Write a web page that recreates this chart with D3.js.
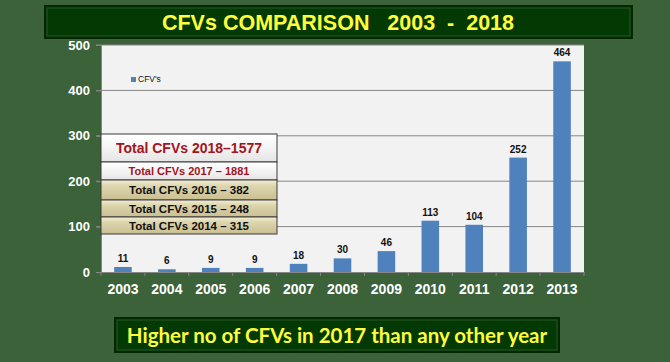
<!DOCTYPE html>
<html><head><meta charset="utf-8">
<script src="https://cdn.jsdelivr.net/npm/d3@7"></script>
<style>body{margin:0;background:#3b6239;}svg{display:block}</style>
</head><body>
<script>
const years = ["2003","2004","2005","2006","2007","2008","2009","2010","2011","2012","2013"];
const values = [11,6,9,9,18,30,46,113,104,252,464];
const yTicks = [0,100,200,300,400,500];
const seriesName = "CFV's";
const totals = ["Total CFVs 2018–1577","Total CFVs 2017 – 1881","Total CFVs 2016 – 382","Total CFVs 2015 – 248","Total CFVs 2014 – 315"];
const titleText = "CFVs COMPARISON   2003  -  2018";
const footText = "Higher no of CFVs in 2017 than any other year";

const W=670,H=362;
const svg=d3.select("body").append("svg").attr("width",W).attr("height",H);
const defs=svg.append("defs");
svg.append("rect").attr("width",W).attr("height",H).attr("fill","#3b6239");

const m={l:101,r:584,t:45,b:272};
const x=d3.scaleBand().domain(years).range([m.l,m.r]).paddingInner(0.6).paddingOuter(0.3);
const y=d3.scaleLinear().domain([0,500]).range([m.b,m.t]);

function darkBox(x0,y0,w,h){
  svg.append("rect").attr("x",x0).attr("y",y0).attr("width",w).attr("height",h).attr("fill","#012801");
  svg.append("rect").attr("x",x0+3).attr("y",y0+3).attr("width",w-6).attr("height",h-6).attr("fill","#033a03").attr("stroke","#1c4e1c").attr("stroke-width",1.5);
}
darkBox(44,5,589,34);
svg.append("text").attr("x",338).attr("y",30).attr("text-anchor","middle")
  .attr("font-family","Liberation Sans, Arial").attr("font-weight","bold").attr("font-size",21.5)
  .attr("fill","#ffff3c").style("white-space","pre").text(titleText);

svg.append("rect").attr("x",m.l).attr("y",m.t).attr("width",m.r-m.l).attr("height",m.b-m.t).attr("fill","#f2f2f2");
svg.append("g").selectAll("line").data(yTicks.filter(d=>d>0)).join("line")
  .attr("x1",m.l-5).attr("x2",m.r).attr("y1",d=>y(d)).attr("y2",d=>y(d)).attr("stroke","#868686").attr("stroke-width",1);
const ya=svg.append("g").attr("transform",`translate(${m.l},0)`).call(d3.axisLeft(y).tickValues(yTicks).tickSize(5).tickPadding(6));
ya.select(".domain").attr("stroke","#868686");
ya.selectAll(".tick line").attr("stroke","#868686");
ya.selectAll("text").attr("fill","#fff").attr("font-family","Liberation Sans, Arial").attr("font-weight","bold").attr("font-size",13);

svg.append("g").selectAll("rect").data(values).join("rect")
  .attr("x",(d,i)=>x(years[i])).attr("width",x.bandwidth())
  .attr("y",d=>y(d)).attr("height",d=>y(0)-y(d)).attr("fill","#4f81bd");
svg.append("g").selectAll("text").data(values).join("text")
  .attr("x",(d,i)=>x(years[i])+x.bandwidth()/2).attr("y",d=>y(d)-5)
  .attr("text-anchor","middle").attr("font-family","Liberation Sans, Arial").attr("font-weight","bold").attr("font-size",10).attr("fill","#111")
  .text(d=>d);

const xa=svg.append("g").attr("transform",`translate(0,${m.b})`).call(d3.axisBottom(x).tickSize(0).tickPadding(12));
xa.select(".domain").attr("stroke","#868686");
xa.selectAll("text").attr("fill","#fff").attr("font-family","Liberation Sans, Arial").attr("font-weight","bold").attr("font-size",14);
const step=x.step();
svg.append("g").selectAll("line").data(d3.range(years.length+1)).join("line")
  .attr("x1",i=>m.l+i*step).attr("x2",i=>m.l+i*step).attr("y1",m.b).attr("y2",m.b+4).attr("stroke","#868686");

svg.append("rect").attr("x",131).attr("y",77).attr("width",5).attr("height",5).attr("fill","#4f81bd");
svg.append("text").attr("x",138).attr("y",82).attr("font-family","Liberation Sans, Arial").attr("font-size",8.5).attr("fill","#111").text(seriesName);

const gW=defs.append("linearGradient").attr("id","gw").attr("x1",0).attr("y1",0).attr("x2",0).attr("y2",1);
gW.append("stop").attr("offset","0").attr("stop-color","#ffffff");
gW.append("stop").attr("offset","0.5").attr("stop-color","#f4f4f4");
gW.append("stop").attr("offset","1").attr("stop-color","#e4e4e4");
const gT=defs.append("linearGradient").attr("id","gt").attr("x1",0).attr("y1",0).attr("x2",0).attr("y2",1);
gT.append("stop").attr("offset","0").attr("stop-color","#f4efd6");
gT.append("stop").attr("offset","0.3").attr("stop-color","#ddd5ad");
gT.append("stop").attr("offset","1").attr("stop-color","#c9bf92");
const rows=[
  {y:134,h:28,fill:"url(#gw)",color:"#a3141c",size:14,weight:"bold"},
  {y:162,h:18,fill:"url(#gw)",color:"#a3141c",size:11,weight:"bold"},
  {y:180,h:20,fill:"url(#gt)",color:"#111",size:11.5,weight:"bold"},
  {y:200,h:17,fill:"url(#gt)",color:"#111",size:11.5,weight:"bold"},
  {y:217,h:17,fill:"url(#gt)",color:"#111",size:11.5,weight:"bold"}
];
const bx=101,bw=176;
rows.forEach((r,i)=>{
  svg.append("rect").attr("x",bx).attr("y",r.y).attr("width",bw).attr("height",r.h).attr("fill",r.fill).attr("stroke","#3a3a3a").attr("stroke-width",1);
  svg.append("text").attr("x",bx+bw/2).attr("y",r.y+r.h/2).attr("dy","0.36em").attr("text-anchor","middle")
    .attr("font-family","Liberation Sans, Arial").attr("font-weight",r.weight).attr("font-size",r.size).attr("fill",r.color).text(totals[i]);
});

darkBox(114,317,446,36);
svg.append("text").attr("x",337).attr("y",343).attr("text-anchor","middle")
  .attr("font-family","Lato, Open Sans").attr("font-weight","bold").attr("font-size",20.5)
  .attr("fill","#ffff3c").text(footText);
</script>
</body></html>
